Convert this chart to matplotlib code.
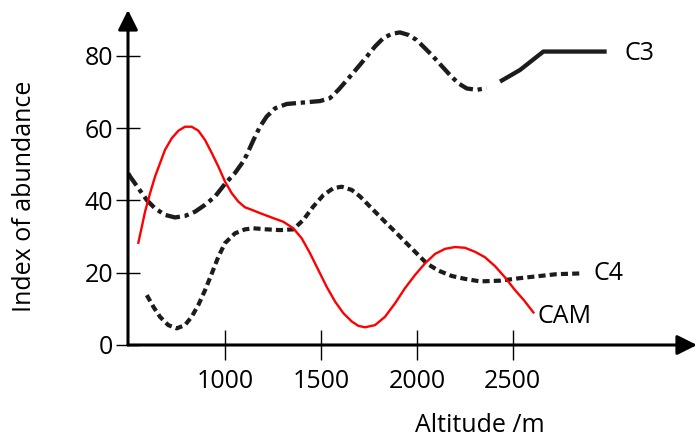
import matplotlib.pyplot as plt

plt.rcParams['font.family'] = ['Open Sans', 'DejaVu Sans']

# values
c3_alt = [495, 505, 548, 592, 635, 687, 739, 791, 844, 896, 948, 1000, 1052, 1095,
          1113, 1148, 1182, 1217, 1261, 1322, 1408, 1495, 1547, 1591, 1652, 1695,
          1739, 1782, 1825, 1869, 1912, 1956, 1999, 2043, 2086, 2130, 2173, 2217,
          2260, 2312, 2364, 2434, 2538, 2660, 2990]
c3_idx = [47.5, 46.6, 43.4, 40.1, 37.8, 36.0, 35.3, 35.7, 36.9, 38.8, 41.1, 44.6, 47.6, 50.8,
          52.6, 56.7, 60.4, 63.2, 65.5, 66.7, 67.1, 67.5, 68.3, 70.6, 74.3, 77.0,
          79.8, 82.6, 84.9, 86.1, 86.5, 85.8, 84.4, 82.1, 79.8, 77.2, 74.7, 72.4,
          71.0, 70.6, 71.1, 72.9, 76.1, 81.2, 81.2]

c4_alt = [592, 626, 661, 704, 748, 791, 826, 861, 896, 931, 965, 1000, 1052, 1104,
          1148, 1217, 1287, 1356, 1408, 1460, 1513, 1565, 1608, 1661, 1704, 1730,
          1782, 1834, 1886, 1938, 1991, 2051, 2112, 2182, 2251, 2330, 2434, 2538,
          2642, 2729, 2851]
c4_idx = [13.8, 10.6, 7.8, 5.5, 4.6, 5.5, 7.8, 11.1, 15.2, 19.8, 24.4, 28.2, 30.9, 32.0,
          32.3, 32.0, 31.8, 32.0, 34.6, 38.3, 41.5, 43.4, 43.8, 42.9, 41.1, 39.7,
          36.9, 34.1, 31.4, 28.6, 25.8, 22.6, 20.6, 19.1, 18.3, 17.6, 17.8, 18.5,
          19.1, 19.6, 19.8]

cam_alt = [548, 566, 583, 609, 635, 661, 687, 722, 757, 791, 826, 861, 896, 931,
           965, 1000, 1035, 1069, 1104, 1130, 1182, 1252, 1304, 1356, 1400, 1443,
           1486, 1530, 1574, 1617, 1661, 1695, 1730, 1782, 1834, 1886, 1938, 1991,
           2043, 2095, 2147, 2199, 2251, 2303, 2355, 2408, 2460, 2512, 2560, 2608]
cam_idx = [28.3, 32.7, 36.9, 42.0, 46.6, 50.3, 54.0, 57.2, 59.3, 60.4, 60.4, 59.3, 56.7, 53.1,
           49.4, 45.2, 42.0, 39.7, 38.1, 37.6, 36.5, 35.1, 34.1, 32.3, 29.5, 25.4,
           20.8, 16.1, 12.0, 8.8, 6.5, 5.3, 4.9, 5.5, 7.8, 11.5, 15.7, 19.4,
           22.6, 25.2, 26.6, 27.1, 26.9, 25.8, 24.3, 21.8, 18.7, 15.2, 12.3, 9.0]

x_ticks = [1000, 1500, 2000, 2500]
y_ticks = [0, 20, 40, 60, 80]

C3_SOLID_FROM = 2400   # the C3 line is solid beyond this altitude

fig = plt.figure(figsize=(6.98, 4.38), dpi=100)
ax = fig.add_axes([128 / 698, 1 - 345 / 438, 569 / 698, 335 / 438])
ax.set_xlim(494, 3461)
ax.set_ylim(0, 92.7)

ink = '#1c1c1c'

# C3: dash-dot, then solid at the high end
dash_part = [(a, v) for a, v in zip(c3_alt, c3_idx) if a < C3_SOLID_FROM]
solid_part = [(a, v) for a, v in zip(c3_alt, c3_idx) if a >= C3_SOLID_FROM]
ax.plot(*zip(*dash_part), color=ink, lw=3.1, dashes=(3.4, 1.1, 1.0, 1.1),
        dash_capstyle='butt')
ax.plot(*zip(*solid_part), color=ink, lw=3.1, solid_capstyle='butt')

# C4: short dashes
ax.plot(c4_alt, c4_idx, color=ink, lw=3, dashes=(1.7, 1.0), dash_capstyle='butt')

# CAM
ax.plot(cam_alt, cam_idx, color='red', lw=1.7)

ax.text(3085, 80.8, 'C3', fontsize=18, ha='left', va='center')
ax.text(2919, 19.9, 'C4', fontsize=18, ha='left', va='center')
ax.text(2627, 8.0, 'CAM', fontsize=18, ha='left', va='center')

for s in ax.spines.values():
    s.set_visible(False)

# axes drawn as arrows
arr = dict(arrowstyle='-|>,head_length=0.8,head_width=0.4', lw=2.2, color='black',
           mutation_scale=15, shrinkA=0, shrinkB=0)
ax.annotate('', xy=(1, 0), xytext=(0, 0), xycoords='axes fraction', arrowprops=arr)
ax.annotate('', xy=(0, 1), xytext=(0, 0), xycoords='axes fraction', arrowprops=arr)

ax.set_xticks(x_ticks)
ax.set_yticks(y_ticks)
ax.tick_params(axis='x', direction='inout', length=22, width=1, labelsize=18, pad=6)
ax.tick_params(axis='y', direction='inout', length=17, width=1, labelsize=18, pad=2)

ax.set_xlabel('Altitude /m', fontsize=18, va='center')
ax.set_ylabel('Index of abundance', fontsize=18, va='center')
ax.xaxis.set_label_coords((480 - 128) / 569, (345 - 426) / 335)
ax.yaxis.set_label_coords((25 - 128) / 569, (345 - 196) / 335)

fig.savefig('out.png', dpi=100)
